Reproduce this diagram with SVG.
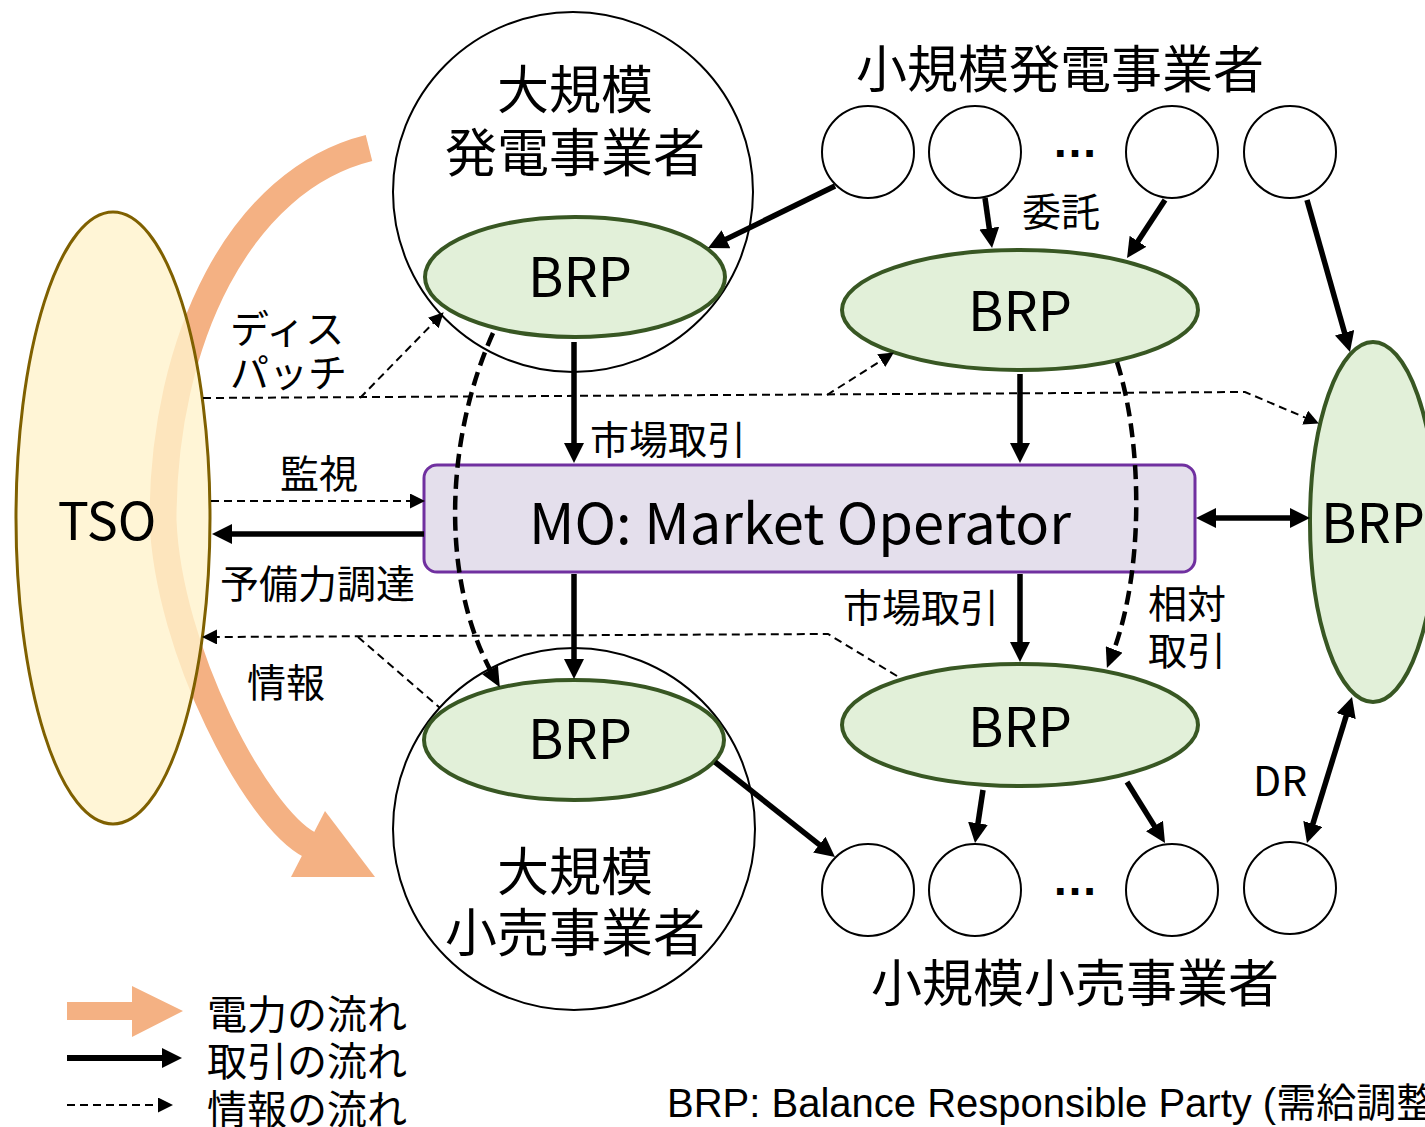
<svg xmlns="http://www.w3.org/2000/svg" width="1425" height="1127" viewBox="0 0 1425 1127">
<defs>
<style>
.jp{font-family:"Noto Sans CJK JP","Noto Sans",sans-serif;fill:#000}
.big{font-size:52px}
.lbl{font-size:39px}
.brpt{font-size:54px;text-anchor:middle}
.mid{text-anchor:middle}
.brp{fill:#E2F0D9;stroke:#385723;stroke-width:4}
.circ{fill:#fff;stroke:#000;stroke-width:2}
.thick{stroke:#000;stroke-width:5.5;fill:none}
.dash{stroke:#000;stroke-width:2;stroke-dasharray:8 5;fill:none}
.dashk{stroke:#000;stroke-width:4.5;stroke-dasharray:14 7;fill:none}
.dots{font-family:"Liberation Sans",sans-serif;font-size:46px;font-weight:bold;text-anchor:middle}
</style>
<marker id="ah" markerUnits="userSpaceOnUse" markerWidth="20" markerHeight="20" refX="6" refY="10" orient="auto-start-reverse"><path d="M0,0 L20,10 L0,20 z" fill="#000"/></marker>
<marker id="ahd" markerUnits="userSpaceOnUse" markerWidth="15" markerHeight="15" refX="4" refY="7.5" orient="auto"><path d="M0,0 L15,7.5 L0,15 z" fill="#000"/></marker>
<marker id="ahk" markerUnits="userSpaceOnUse" markerWidth="20" markerHeight="18" refX="6" refY="9" orient="auto"><path d="M0,0 L20,9 L0,18 z" fill="#000"/></marker>
</defs>
<rect width="1425" height="1127" fill="#fff"/>

<g id="power-flow">
<path d="M369,148 C240,180 163,340 163,520 C168,650 256,817 310,845" fill="none" stroke="#F4B183" stroke-width="27"/>
<polygon points="325,811 375,877 291,877" fill="#F4B183"/>
</g>

<g id="tso">
<ellipse cx="113" cy="518" rx="97" ry="306" fill="#FFF2CC" fill-opacity="0.8" stroke="#7F6000" stroke-width="3"/>
<text class="jp mid" x="107" y="540" font-size="52">TSO</text>
</g>

<g id="large-generator">
<circle class="circ" cx="573" cy="192" r="180"/>
<text class="jp big mid" x="575" y="109">大規模</text>
<text class="jp big mid" x="575" y="172">発電事業者</text>
</g>
<g id="brp-generator">
<ellipse class="brp" cx="575" cy="277" rx="150" ry="60"/>
<text class="jp brpt" x="580" y="297">BRP</text>
</g>

<g id="large-retailer">
<circle class="circ" cx="574" cy="829" r="181"/>
<text class="jp big mid" x="575" y="891">大規模</text>
<text class="jp big mid" x="575" y="952">小売事業者</text>
</g>
<g id="brp-retailer">
<ellipse class="brp" cx="574" cy="740" rx="150" ry="60"/>
<text class="jp brpt" x="580" y="759">BRP</text>
</g>

<g id="small-generators">
<text class="jp mid" x="1060" y="88" font-size="51">小規模発電事業者</text>
<circle class="circ" cx="868" cy="152" r="46"/>
<circle class="circ" cx="975" cy="152" r="46"/>
<text class="dots" x="1075" y="157">…</text>
<circle class="circ" cx="1172" cy="152" r="46"/>
<circle class="circ" cx="1290" cy="152" r="46"/>
</g>

<g id="small-retailers">
<circle class="circ" cx="868" cy="890" r="46"/>
<circle class="circ" cx="975" cy="890" r="46"/>
<text class="dots" x="1075" y="895">…</text>
<circle class="circ" cx="1172" cy="890" r="46"/>
<circle class="circ" cx="1290" cy="888" r="46"/>
<text class="jp mid" x="1075" y="1002" font-size="51">小規模小売事業者</text>
</g>

<g id="brp-aggregator-gen">
<ellipse class="brp" cx="1020" cy="310" rx="178" ry="60"/>
<text class="jp brpt" x="1020" y="331">BRP</text>
</g>
<g id="brp-aggregator-ret">
<ellipse class="brp" cx="1020" cy="725" rx="178" ry="61"/>
<text class="jp brpt" x="1020" y="747">BRP</text>
</g>
<g id="brp-right">
<ellipse class="brp" cx="1373" cy="522" rx="63" ry="180"/>
<text class="jp" x="1321" y="543" font-size="54">BRP</text>
</g>

<g id="mo">
<rect x="424" y="465" width="771" height="107" rx="13" fill="#E4DFEC" stroke="#7030A0" stroke-width="3"/>
<text class="jp mid" x="800" y="544" font-size="56">MO: Market Operator</text>
</g>

<g id="connectors">
<line class="thick" x1="835" y1="186" x2="720.6" y2="241.9" marker-end="url(#ah)"/>
<line class="thick" x1="985" y1="198" x2="990.1" y2="234.1" marker-end="url(#ah)"/>
<line class="thick" x1="1165" y1="200" x2="1134.7" y2="246.3" marker-end="url(#ah)"/>
<line class="thick" x1="1307" y1="200" x2="1346.2" y2="338.5" marker-end="url(#ah)"/>
<line class="thick" x1="574" y1="342" x2="574" y2="449" marker-end="url(#ah)"/>
<line class="thick" x1="1020" y1="374" x2="1020" y2="449" marker-end="url(#ah)"/>
<line class="thick" x1="574" y1="574" x2="574" y2="665" marker-end="url(#ah)"/>
<line class="thick" x1="1020" y1="574" x2="1020" y2="648" marker-end="url(#ah)"/>
<line class="thick" x1="1210" y1="518" x2="1296" y2="518" marker-start="url(#ah)" marker-end="url(#ah)"/>
<line class="thick" x1="424" y1="534" x2="226" y2="534" marker-end="url(#ah)"/>
<line class="thick" x1="715" y1="762" x2="824" y2="848.3" marker-end="url(#ah)"/>
<line class="thick" x1="983" y1="790" x2="977.1" y2="829.2" marker-end="url(#ah)"/>
<line class="thick" x1="1127" y1="782" x2="1157.6" y2="831.1" marker-end="url(#ah)"/>
<line class="thick" x1="1311.1" y1="829.6" x2="1347.9" y2="710.4" marker-start="url(#ah)" marker-end="url(#ah)"/>

<line class="dash" x1="211" y1="501" x2="414" y2="501" marker-end="url(#ahd)"/>
<path class="dash" d="M203,398 L1245,392 L1308.8,419.1" marker-end="url(#ahd)"/>
<path class="dash" d="M360,398 L436,320.2" marker-end="url(#ahd)"/>
<path class="dash" d="M827,395 L884.6,358.4" marker-end="url(#ahd)"/>
<path class="dash" d="M897,676 L828,634 L213,637" marker-end="url(#ahd)"/>
<path class="dash" d="M358,637 L440,708"/>

<path class="dashk" d="M493,333 C445,440 440,580 493,675" marker-end="url(#ahk)"/>
<path class="dashk" d="M1117,362 C1142,440 1145,570 1112,655" marker-end="url(#ahk)"/>
</g>

<g id="labels">
<text class="jp lbl" x="230" y="343">ディス</text>
<text class="jp lbl" x="230" y="387">パッチ</text>
<text class="jp lbl" x="280" y="488">監視</text>
<text class="jp lbl" x="220" y="598">予備力調達</text>
<text class="jp lbl" x="247" y="697">情報</text>
<text class="jp lbl" x="590" y="454">市場取引</text>
<text class="jp lbl" x="843" y="622">市場取引</text>
<text class="jp lbl" x="1022" y="226">委託</text>
<text class="jp lbl" x="1148" y="618">相対</text>
<text class="jp lbl" x="1148" y="665">取引</text>
<text class="jp" x="1253" y="796" font-size="41">DR</text>
</g>

<g id="legend">
<polygon points="67,1002 132,1002 132,986 183,1011 132,1037 132,1020 67,1020" fill="#F4B183"/>
<line x1="67" y1="1058" x2="168" y2="1058" stroke="#000" stroke-width="6" marker-end="url(#ah)"/>
<line x1="67" y1="1105" x2="162" y2="1105" class="dash" marker-end="url(#ahd)"/>
<text class="jp" x="207" y="1029" font-size="40">電力の流れ</text>
<text class="jp" x="207" y="1076" font-size="40">取引の流れ</text>
<text class="jp" x="207" y="1124" font-size="40">情報の流れ</text>
<text x="667" y="1117" font-family="'Liberation Sans','Noto Sans CJK JP',sans-serif" font-size="40">BRP: Balance Responsible Party (需給調整</text>
</g>
</svg>
